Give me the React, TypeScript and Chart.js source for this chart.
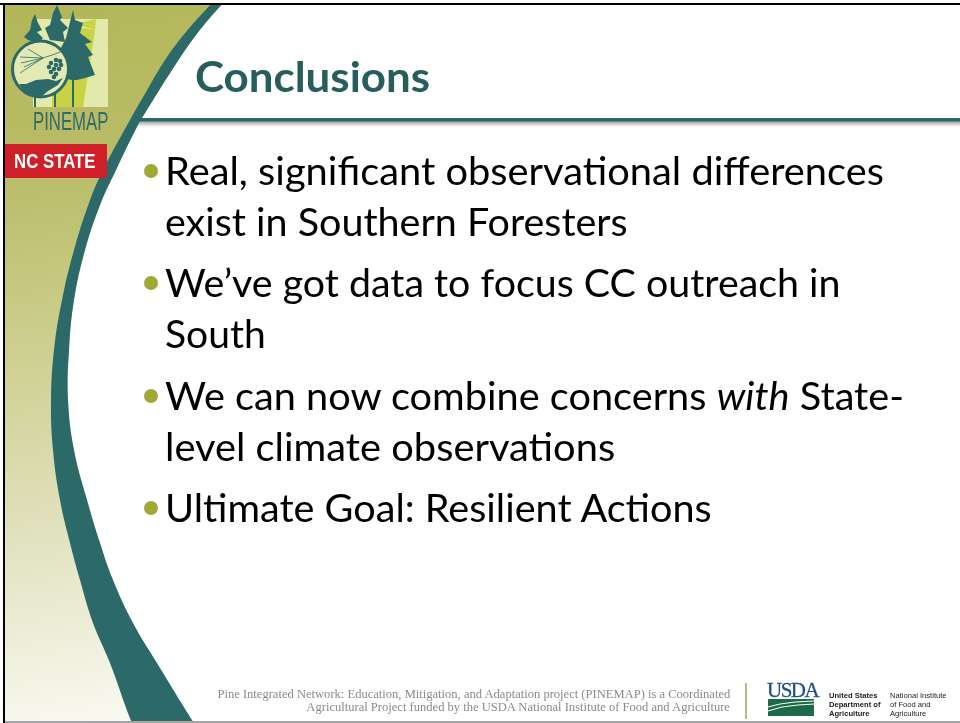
import React, { useEffect, useRef } from "react";
import { Chart, registerables } from "chart.js";

Chart.register(...registerables);

type P = [number, number];

const titleText = "Conclusions";
const bulletLines: [string, number][] = [
  ["Real, significant observational differences", 184],
  ["exist in Southern Foresters", 235],
  ["We’ve got data to focus CC outreach in", 296],
  ["South", 347],
  ["We can now combine concerns |with| State-", 409],
  ["level climate observations", 460],
  ["Ultimate Goal: Resilient Actions", 521],
];
const lineStretch = [1.048, 1.039, 1.036, 1.027, 1.045, 1.048, 1.042];
const bulletDots: P[] = [[151, 171], [151, 283], [151, 396], [151, 508]];
const footerLines: [string, number][] = [
  ["Pine Integrated Network: Education, Mitigation, and Adaptation project (PINEMAP) is a Coordinated", 698],
  ["Agricultural Project funded by the USDA National Institute of Food and Agriculture", 711],
];
const usdaCol1: [string, number][] = [["United States", 698], ["Department of", 707], ["Agriculture", 716]];
const usdaCol2: [string, number][] = [["National Institute", 698], ["of Food and", 707], ["Agriculture", 716]];

const outerEdge: P[] = [[238, -26], [212, 3], [186, 32], [165, 60], [146, 92], [130, 120], [103, 170], [89, 203], [74, 250], [62, 300], [54, 350], [51, 400], [53, 450], [60, 500], [70, 543], [80, 580], [93, 623], [110, 663], [132, 723], [146, 750], [160, 777]];
const innerEdge: P[] = [[250, -26], [223, 3], [196, 35], [172, 70], [150, 105], [138, 125], [116, 170], [100, 205], [85, 250], [74, 300], [69, 350], [68, 400], [74, 450], [87, 500], [100, 543], [113, 580], [133, 623], [157, 663], [194, 723], [212, 750], [232, 777]];

const sunBox: P[] = [[33, 19], [108, 19], [108, 107], [33, 107]];
const greenBand: P[] = [[52, 107], [52, 60], [70, 34], [83, 28], [95, 30], [83, 107]];
const greenRayTop: P[] = [[95, 30], [76, 24], [96, 19]];
const treeRight: P[] = [[73, 10], [75, 20], [83, 23], [80, 33], [92, 42], [85, 44], [93, 55], [88, 57], [95, 75], [85, 78], [77, 80], [74, 80], [74, 107], [72, 107], [72, 80], [62, 78], [60, 50], [66, 38], [70, 22]];
const treeMiddle: P[] = [[57, 5], [62, 17], [60, 20], [68, 28], [63, 32], [65, 42], [50, 40], [45, 28], [50, 25], [53, 13]];
const treeLeft: P[] = [[35, 14], [38, 23], [42, 30], [37, 32], [43, 38], [38, 43], [28, 40], [24, 37], [30, 30], [32, 20]];
const trunkLeft: P[] = [[34, 90], [36, 90], [36, 107], [34, 107]];
const trunkMid: P[] = [[54, 90], [56, 90], [56, 107], [54, 107]];
const hand: P[] = [[19, 84], [26, 84], [36, 80], [48, 79], [56, 81], [63, 78], [58, 85], [48, 91], [41, 97], [30, 95], [23, 90]];
const needles: P[][] = [
  [[28, 49], [43, 58]], [[20, 57], [43, 58]], [[21, 63], [43, 58]], [[20, 73], [43, 58]], [[24, 67], [43, 58]],
  [[43, 58], [55, 54], [65, 50]], [[47, 43], [60, 47]],
];
const cone: P[] = [[56, 60], [60, 61], [51, 63], [56, 65], [61, 65], [49, 67], [54, 69], [59, 69], [51, 72], [56, 74], [54, 77]];
const ringCentre: P[] = [[40.5, 69]];

const usdaField: P[] = [[768, 699], [814, 699], [814, 716], [768, 716]];
const usdaCurveA: P[] = [[768, 707], [780, 704], [795, 702], [814, 701]];
const usdaCurveB: P[] = [[768, 711], [782, 707], [798, 705], [814, 704]];

const rect = (x0: number, y0: number, x1: number, y1: number): P[] => [[x0, y0], [x1, y0], [x1, y1], [x0, y1]];
const pts = (a: P[]) => a.map(([x, y]) => ({ x, y }));

const shape = (a: P[], color: any, tension = 0) => ({
  data: pts(a), showLine: true, fill: "shape", backgroundColor: color, borderColor: "transparent",
  borderWidth: 0, pointRadius: 0, tension,
});
const stroke = (a: P[], color: string, w: number) => ({
  data: pts(a), showLine: true, fill: false, borderColor: color, borderWidth: w, pointRadius: 0, tension: 0,
});
const dots = (a: P[], color: string, r: number, edge = "transparent", w = 0) => ({
  data: pts(a), showLine: false, pointRadius: r, pointBackgroundColor: color, pointBorderColor: edge, pointBorderWidth: w,
});

const TEAL = "#2b6a68";

export default function App() {
  const ref = useRef<HTMLCanvasElement>(null);
  useEffect(() => {
    const cv = ref.current!;
    const c2 = cv.getContext("2d")!;
    const gold = c2.createLinearGradient(0, 0, 110, 723);
    gold.addColorStop(0, "#b3b656");
    gold.addColorStop(0.25, "#babd69");
    gold.addColorStop(0.5, "#cfd194");
    gold.addColorStop(0.72, "#e0e1bd");
    gold.addColorStop(1, "#f9f9f1");
    const shade = c2.createLinearGradient(0, 121, 0, 127);
    shade.addColorStop(0, "#9a9a9a");
    shade.addColorStop(1, "#ffffff");
    const layers = [
      shape(rect(5, 5, 225, 721), gold),
      shape([...innerEdge, [1100, 777], [1100, -26]], "#ffffff", 0.4),
      shape(rect(131, 121, 960, 127), shade),
      shape(rect(131, 118, 960, 121.5), TEAL),
      shape([...outerEdge, ...[...innerEdge].reverse()], TEAL, 0.4),
      shape(sunBox, "#e3e8ab"),
      shape(greenBand, "#cad343"),
      shape(greenRayTop, "#cad343"),
      shape(trunkLeft, TEAL),
      shape(trunkMid, TEAL),
      shape(treeLeft, TEAL),
      shape(treeMiddle, TEAL),
      shape(treeRight, TEAL),
      dots(ringCentre, "#e4e9b4", 28, TEAL, 3),
      shape(hand, TEAL),
      ...needles.map((n) => stroke(n, TEAL, 0.8)),
      dots(cone, TEAL, 2.3),
      shape(rect(5, 144, 107, 178), "#cf2029"),
      dots(bulletDots, "#a2a834", 7),
      shape(rect(745, 683, 747, 719), "#b8bc83"),
      shape(usdaField, "#1d6a48"),
      stroke(usdaCurveA, "#ffffff", 1),
      stroke(usdaCurveB, "#ffffff", 1),
      shape(rect(0, 0, 960, 3), "#ffffff"),
      shape(rect(0, 3, 960, 5), "#000000"),
      shape(rect(3, 3, 5, 723), "#000000"),
      shape(rect(5, 721, 960, 723), "#a5a5a5"),
    ];
    const chart = new Chart(cv, {
      type: "scatter",
      data: { datasets: layers.reverse() as any },
      options: {
        animation: false,
        responsive: false,
        layout: { padding: 0, autoPadding: false },
        plugins: { legend: { display: false }, tooltip: { enabled: false } },
        scales: {
          x: { type: "linear", display: false, min: 0, max: 960 },
          y: { type: "linear", display: false, min: 0, max: 723, reverse: true },
        },
      },
    });
    return () => chart.destroy();
  }, []);

  const bodyFont: React.CSSProperties = { fontFamily: "Lato", fontSize: 38, color: "#000" };
  const smallFont: React.CSSProperties = { fontFamily: "'Liberation Sans'", fontSize: 7.6, color: "#222" };

  return (
    <div style={{ position: "fixed", left: 0, top: 0, width: 960, height: 723, background: "#fff", overflow: "hidden" }}>
      <canvas ref={ref} width={960} height={723} style={{ position: "absolute", left: 0, top: 0, width: 960, height: 723 }} />
      <div style={{ position: "absolute", left: 195, top: 51, fontFamily: "Lato", fontWeight: 700, fontSize: 42, lineHeight: "50px", color: "#265e5c", transform: "scaleX(1.045)", transformOrigin: "left" }}>{titleText}</div>
      {bulletLines.map(([s, y], i) => {
        const parts = s.split("|");
        return (
          <div key={i} style={{ position: "absolute", left: 165, top: y - 37, lineHeight: "46px", whiteSpace: "pre", transform: `scaleX(${lineStretch[i]})`, transformOrigin: "left", ...bodyFont }}>
            {parts[0]}
            {parts[1] ? <i>{parts[1]}</i> : null}
            {parts[2] ?? ""}
          </div>
        );
      })}
      <div style={{ position: "absolute", left: 33, top: 108, fontFamily: "'Liberation Sans'", fontSize: 25, lineHeight: "26px", color: "#2f6b6a", transform: "scaleX(0.67)", transformOrigin: "left", whiteSpace: "pre" }}>PINEMAP</div>
      <div style={{ position: "absolute", left: 14, top: 149, fontFamily: "'Liberation Sans'", fontWeight: 700, fontSize: 21, lineHeight: "24px", color: "#fff", transform: "scaleX(0.8)", transformOrigin: "left", whiteSpace: "pre" }}>NC STATE</div>
      {footerLines.map(([s, y], i) => (
        <div key={i} style={{ position: "absolute", right: 230, top: y - 10, fontFamily: "'Liberation Serif'", fontSize: 12, lineHeight: "13px", color: "#8a8a8a", whiteSpace: "pre", transform: "scaleX(1.046)", transformOrigin: "right" }}>{s}</div>
      ))}
      <div style={{ position: "absolute", left: 767, top: 680, fontFamily: "'Liberation Serif'", fontSize: 21, lineHeight: "21px", color: "#1c5180", letterSpacing: -1.5, WebkitTextStroke: "0.3px #1c5180" }}>USDA</div>
      {usdaCol1.map(([s, y], i) => (
        <div key={i} style={{ position: "absolute", left: 829, top: y - 7, lineHeight: "9px", whiteSpace: "pre", ...smallFont, fontWeight: 700 }}>{s}</div>
      ))}
      {usdaCol2.map(([s, y], i) => (
        <div key={i} style={{ position: "absolute", left: 890, top: y - 7, lineHeight: "9px", whiteSpace: "pre", ...smallFont }}>{s}</div>
      ))}
    </div>
  );
}
